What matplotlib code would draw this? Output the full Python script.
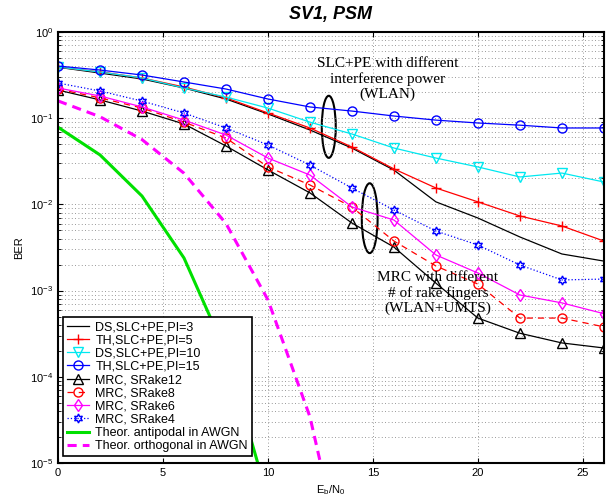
import matplotlib
matplotlib.use('Agg')
import matplotlib.pyplot as plt
from matplotlib.patches import Ellipse

plt.rcParams['font.family'] = ['Liberation Sans', 'DejaVu Sans']
plt.rcParams['mathtext.default'] = 'regular'

# Eb/N0 points (dB)
ebn0 = [0, 2, 4, 6, 8, 10, 12, 14, 16, 18, 20, 22, 24, 26]

# SLC+PE curves
ds_pi3 = [0.39, 0.334, 0.285, 0.224, 0.167, 0.112, 0.073, 0.045, 0.025,
          0.0107, 0.00695, 0.00419, 0.00266, 0.0022]
th_pi5 = [0.39, 0.345, 0.293, 0.230, 0.172, 0.115, 0.077, 0.0463, 0.0258,
          0.0155, 0.0107, 0.00734, 0.00562, 0.00376]
ds_pi10 = [0.393, 0.343, 0.293, 0.224, 0.176, 0.131, 0.090, 0.0656, 0.0451,
           0.0345, 0.0272, 0.0208, 0.0231, 0.0182]
th_pi15 = [0.403, 0.362, 0.317, 0.263, 0.218, 0.167, 0.135, 0.121, 0.106,
           0.095, 0.088, 0.083, 0.077, 0.077]

# MRC curves
srake12 = [0.212, 0.163, 0.121, 0.0857, 0.0476, 0.0251, 0.0136, 0.00608,
           0.0032, 0.00122, 0.00048, 0.00032, 0.000247, 0.000216]
srake8 = [0.218, 0.172, 0.131, 0.090, 0.0589, 0.0272, 0.0168, 0.0093,
          0.00376, 0.00193, 0.00119, 0.00048, 0.00048, 0.00038]
srake6 = [0.224, 0.181, 0.135, 0.095, 0.0638, 0.0345, 0.0219, 0.00933,
          0.00659, 0.00259, 0.0016, 0.00089, 0.00072, 0.00054]
srake4 = [0.256, 0.207, 0.158, 0.115, 0.077, 0.0489, 0.0286, 0.0155,
          0.0086, 0.00491, 0.00338, 0.00198, 0.00133, 0.00136]

# theoretical AWGN curves
theo_x = [0, 2, 4, 6, 8, 10, 12, 14]
antipodal = [0.0786, 0.0375, 0.0125, 0.00239, 0.000191, 3.87e-6, 9e-9, 1e-12]
orthogonal = [0.1587, 0.104, 0.0565, 0.0230, 0.0060, 0.00078, 3.43e-5, 2.5e-7]

fig = plt.figure(figsize=(6.14, 5.0), dpi=100)
ax = fig.add_axes([0.0945, 0.074, 0.889, 0.862])

cyan = '#00e8f0'
mag = '#ff00ff'
lw = 0.9
ms = 6.5
ax.plot(ebn0, ds_pi3, color='k', lw=lw, label='DS,SLC+PE,PI=3')
ax.plot(ebn0, th_pi5, color='r', lw=lw, marker='+', ms=ms, label='TH,SLC+PE,PI=5')
ax.plot(ebn0, ds_pi10, color=cyan, lw=lw, marker='v', ms=ms, mfc='none', label='DS,SLC+PE,PI=10')
ax.plot(ebn0, th_pi15, color='b', lw=lw, marker='o', ms=ms, mfc='none', label='TH,SLC+PE,PI=15')
ax.plot(ebn0, srake12, color='k', lw=lw, marker='^', ms=ms, mfc='none', label='MRC, SRake12')
ax.plot(ebn0, srake8, color='r', lw=lw, ls=(0, (5, 4)), marker='o', ms=ms, mfc='none', label='MRC, SRake8')
ax.plot(ebn0, srake6, color=mag, lw=lw, marker='d', ms=ms, mfc='none', label='MRC, SRake6')
ax.plot(ebn0, srake4, color='b', lw=lw, ls=':', marker=(6, 1, 0), ms=ms, mfc='none', label='MRC, SRake4')
ax.plot(theo_x, antipodal, color='#00e000', lw=2.2, label='Theor. antipodal in AWGN')
ax.plot(theo_x, orthogonal, color=mag, lw=2.2, ls=(0, (3, 2)), label='Theor. orthogonal in AWGN')

ax.set_yscale('log')
ax.set_xlim(0, 26)
ax.set_ylim(1e-5, 1)
ax.set_xticks([0, 5, 10, 15, 20, 25])
grid_kw = dict(ls=(0, (1, 3)), color='#777777', lw=0.6)
ax.grid(True, which='major', **grid_kw)
ax.grid(True, which='minor', axis='y', **grid_kw)
ax.tick_params(which='both', direction='in', top=True, right=True, labelsize=8)
for s in ax.spines.values():
    s.set_linewidth(1.5)

ax.set_xlabel('$E_b/N_0$', fontsize=8)
ax.set_ylabel('BER', fontsize=8)
ax.set_title('SV1, PSM', fontsize=13, fontweight='bold', style='italic', pad=9)

ax.text(0.604, 0.891, 'SLC+PE with different\ninterference power\n(WLAN)',
        transform=ax.transAxes, ha='center', va='center', family='Liberation Serif',
        fontsize=11, linespacing=1.15)
ax.text(0.696, 0.394, 'MRC with different\n# of rake fingers\n(WLAN+UMTS)',
        transform=ax.transAxes, ha='center', va='center', family='Liberation Serif',
        fontsize=11, linespacing=1.15)
ax.add_patch(Ellipse((0.496, 0.780), 0.0256, 0.144, transform=ax.transAxes,
                     fill=False, ec='k', lw=1.5))
ax.add_patch(Ellipse((0.571, 0.568), 0.029, 0.162, transform=ax.transAxes,
                     fill=False, ec='k', lw=1.5))

leg = ax.legend(loc='lower left', bbox_to_anchor=(0.009, 0.016), fontsize=9,
                fancybox=False, edgecolor='k', framealpha=1, borderpad=0.3,
                labelspacing=0.1, handlelength=1.8, handletextpad=0.5,
                borderaxespad=0)
leg.get_frame().set_linewidth(1.2)

fig.savefig('out.png', dpi=100)
